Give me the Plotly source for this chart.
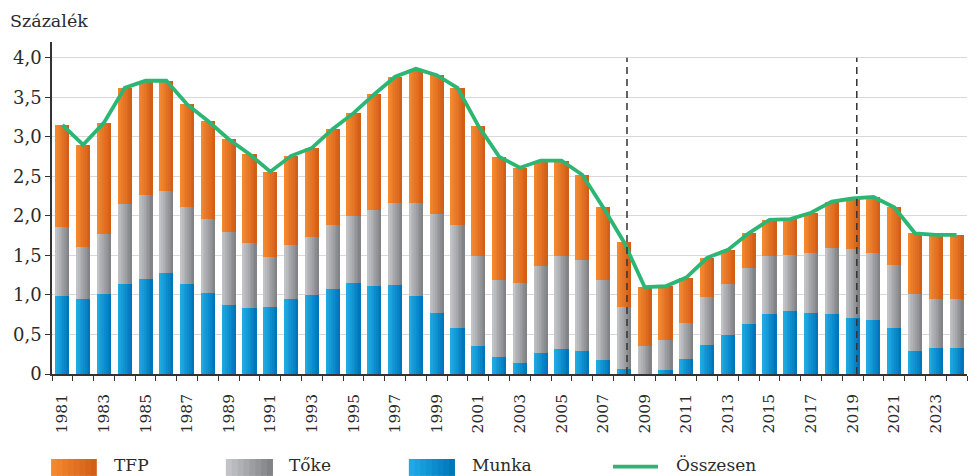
import plotly.graph_objects as go

years = list(range(1981, 2025))
munka = [0.99, 0.95, 1.01, 1.14, 1.20, 1.28, 1.14, 1.03, 0.87, 0.84, 0.85, 0.95, 1.00, 1.08,
         1.15, 1.11, 1.13, 0.99, 0.77, 0.58, 0.35, 0.21, 0.14, 0.27, 0.32, 0.29, 0.18, 0.06,
         0.00, 0.05, 0.19, 0.37, 0.49, 0.63, 0.76, 0.80, 0.77, 0.76, 0.71, 0.68, 0.58, 0.29,
         0.33, 0.33]
toke = [0.87, 0.66, 0.76, 1.01, 1.07, 1.04, 0.97, 0.93, 0.93, 0.82, 0.63, 0.68, 0.73, 0.80,
        0.85, 0.97, 1.03, 1.17, 1.26, 1.31, 1.14, 0.98, 1.01, 1.10, 1.17, 1.15, 1.01, 0.79,
        0.35, 0.38, 0.46, 0.60, 0.65, 0.71, 0.73, 0.71, 0.76, 0.84, 0.87, 0.85, 0.80, 0.72,
        0.62, 0.62]
tfp = [1.29, 1.29, 1.41, 1.47, 1.44, 1.39, 1.30, 1.24, 1.17, 1.12, 1.08, 1.13, 1.13, 1.22,
       1.30, 1.46, 1.60, 1.70, 1.75, 1.73, 1.65, 1.56, 1.46, 1.33, 1.21, 1.08, 0.92, 0.82,
       0.75, 0.68, 0.57, 0.50, 0.43, 0.44, 0.46, 0.45, 0.51, 0.58, 0.64, 0.71, 0.73, 0.77,
       0.81, 0.81]
osszesen = [3.15, 2.90, 3.18, 3.62, 3.71, 3.71, 3.41, 3.20, 2.97, 2.78, 2.56, 2.76, 2.86, 3.10,
            3.30, 3.54, 3.76, 3.86, 3.78, 3.62, 3.14, 2.75, 2.61, 2.70, 2.70, 2.52, 2.11, 1.67,
            1.10, 1.11, 1.22, 1.47, 1.57, 1.78, 1.95, 1.96, 2.04, 2.18, 2.22, 2.24, 2.11, 1.78,
            1.76, 1.76]
series_names = ["TFP", "Tőke", "Munka", "Összesen"]
y_ticks = [0, 0.5, 1.0, 1.5, 2.0, 2.5, 3.0, 3.5, 4.0]
y_ticktext = ["0", "0,5", "1,0", "1,5", "2,0", "2,5", "3,0", "3,5", "4,0"]
x_ticks = list(range(1981, 2025, 2))
break_years = [2008.15, 2019.2]
y_title = "Százalék"

FONT = "'DejaVu Serif', 'Liberation Serif', 'Times New Roman', serif"
TXT = "#2b2b2b"
grad = {
    "Munka": ("#1eabe4", "#0075bb"),
    "Tőke": ("#c2c3c7", "#828387"),
    "TFP": ("#f4882f", "#d25e18"),
}
LINE_GREEN = "#2bb673"


def mix(c1, c2, t):
    a = [int(c1[i:i + 2], 16) for i in (1, 3, 5)]
    b = [int(c2[i:i + 2], 16) for i in (1, 3, 5)]
    return "#" + "".join("%02x" % round(a[k] + (b[k] - a[k]) * t) for k in range(3))


fig = go.Figure()
BW = 0.68
N = 8
w = BW / N
bases = {
    "Munka": [0] * len(years),
    "Tőke": munka,
    "TFP": [m + t for m, t in zip(munka, toke)],
}
vals = {"Munka": munka, "Tőke": toke, "TFP": tfp}
for name in ["Munka", "Tőke", "TFP"]:
    c1, c2 = grad[name]
    for i in range(N):
        wi = w * 1.25 if i < N - 1 else w
        fig.add_trace(go.Bar(
            x=years, y=vals[name], base=bases[name],
            offset=-BW / 2 + i * w, width=wi,
            marker=dict(color=mix(c1, c2, i / (N - 1)), line=dict(width=0)),
            showlegend=False, hoverinfo="skip", name=name,
        ))

fig.add_trace(go.Scatter(
    x=years, y=osszesen, mode="lines", name="Összesen",
    line=dict(color=LINE_GREEN, width=3.8), showlegend=False,
))

shapes = []
for bx in break_years:
    shapes.append(dict(type="line", xref="x", yref="y", x0=bx, x1=bx, y0=0, y1=4.0,
                       line=dict(color="#333333", width=1.5, dash="7px,5px"), layer="above"))

# custom legend
leg_pos = [(-0.001, 0.049, 0.066), (0.190, 0.2415, 0.257), (0.390, 0.4404, 0.457),
           (0.6131, 0.6623, 0.680)]
LEG_Y = -0.274
annotations = []
for k, name in enumerate(series_names):
    x0, x1, xt = leg_pos[k]
    if name == "Összesen":
        shapes.append(dict(type="line", xref="paper", yref="paper", x0=x0, x1=x1,
                           y0=-0.279, y1=-0.279, line=dict(color=LINE_GREEN, width=3.8)))
    else:
        c1, c2 = grad[name]
        for i in range(N):
            sx0 = x0 + (x1 - x0) * i / N
            sx1 = x0 + (x1 - x0) * (i + 1.2) / N if i < N - 1 else x1
            shapes.append(dict(type="rect", xref="paper", yref="paper", x0=sx0, x1=sx1,
                               y0=-0.307, y1=-0.256, line=dict(width=0),
                               fillcolor=mix(c1, c2, i / (N - 1))))
    annotations.append(dict(text=name, xref="paper", yref="paper", x=xt, y=LEG_Y,
                            xanchor="left", yanchor="middle", showarrow=False,
                            font=dict(family=FONT, size=17, color=TXT)))

annotations.append(dict(text=y_title, xref="paper", yref="paper", x=-0.048, y=1.062,
                        xanchor="left", yanchor="middle", showarrow=False,
                        font=dict(family=FONT, size=17.5, color=TXT)))

fig.update_layout(
    width=971, height=476,
    margin=dict(l=52, r=4, t=42, b=102),
    paper_bgcolor="white", plot_bgcolor="white",
    barmode="overlay", bargap=0,
    font=dict(family=FONT, size=17, color=TXT),
    shapes=shapes, annotations=annotations,
    showlegend=False,
)
fig.update_xaxes(
    type="linear", range=[1980.5, 2024.5],
    tickvals=x_ticks, ticktext=[str(v) for v in x_ticks],
    tickangle=-90, ticks="", showgrid=False, zeroline=False,
    showline=True, linecolor="#333333", linewidth=1.5,
    minor=dict(ticks="outside", tick0=1980.5, dtick=1, ticklen=5, tickcolor="#333333",
               tickwidth=1.2, showgrid=False),
    tickfont=dict(family=FONT, size=15.5, color=TXT),
    ticklabelstandoff=12,
)
fig.update_yaxes(
    range=[0, 4.2], tickvals=y_ticks, ticktext=y_ticktext,
    ticks="outside", ticklen=5, tickcolor="#333333", tickwidth=1.2,
    showline=True, linecolor="#333333", linewidth=1.5,
    showgrid=True, gridcolor="#d9d9d9", gridwidth=1.2, zeroline=False,
    tickfont=dict(family=FONT, size=18, color=TXT),
)

fig.write_html("out.html", config={"displayModeBar": False},
               post_script="document.body.style.margin='0';document.body.style.overflow='hidden';")
